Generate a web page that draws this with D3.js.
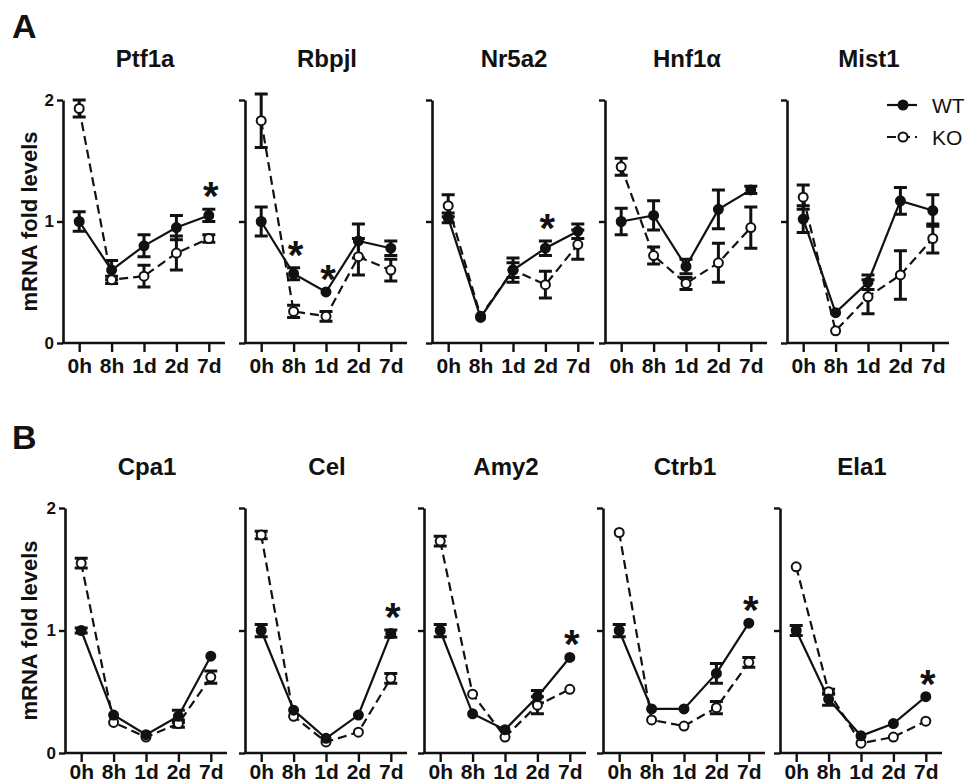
<!DOCTYPE html>
<html lang="en">
<head>
  <meta charset="utf-8" />
  <script src="https://d3js.org/d3.v7.min.js"></script>
  <style>
    html, body { margin: 0; padding: 0; background: #fff; }
    text { font-family: "Liberation Sans", Arial, sans-serif; fill: #111; }
  </style>
</head>
<body>
  <svg id="canvas" width="970" height="784"></svg>
<script>
// time points
var categories = ["0h", "8h", "1d", "2d", "7d"];

// row A: transcription factors
var genesA = ["Ptf1a", "Rbpjl", "Nr5a2", "Hnf1\u03b1", "Mist1"];
var wtA = [
  [1.0, 0.60, 0.80, 0.95, 1.05],
  [1.0, 0.57, 0.42, 0.84, 0.78],
  [1.03, 0.21, 0.60, 0.78, 0.92],
  [1.0, 1.05, 0.63, 1.10, 1.26],
  [1.02, 0.25, 0.50, 1.17, 1.09]
];
var wtErrA = [
  [0.08, 0.08, 0.09, 0.10, 0.05],
  [0.12, 0.05, 0, 0.14, 0.06],
  [0.04, 0, 0.10, 0.06, 0.06],
  [0.11, 0.12, 0.06, 0.16, 0.03],
  [0.11, 0, 0.06, 0.11, 0.13]
];
var koA = [
  [1.93, 0.52, 0.55, 0.74, 0.86],
  [1.83, 0.26, 0.22, 0.71, 0.60],
  [1.13, 0.22, 0.60, 0.48, 0.81],
  [1.45, 0.72, 0.49, 0.66, 0.95],
  [1.20, 0.10, 0.38, 0.56, 0.86]
];
var koErrA = [
  [0.07, 0.03, 0.09, 0.14, 0.03],
  [0.22, 0.05, 0.04, 0.15, 0.09],
  [0.09, 0, 0.06, 0.11, 0.12],
  [0.07, 0.07, 0.05, 0.16, 0.17],
  [0.10, 0, 0.14, 0.20, 0.12]
];
var starsA = [[4], [1, 2], [3], [], []];

// row B: digestive enzymes
var genesB = ["Cpa1", "Cel", "Amy2", "Ctrb1", "Ela1"];
var wtB = [
  [1.0, 0.31, 0.15, 0.30, 0.79],
  [1.0, 0.35, 0.12, 0.31, 0.975],
  [1.0, 0.32, 0.19, 0.46, 0.78],
  [1.0, 0.36, 0.36, 0.65, 1.06],
  [1.0, 0.44, 0.14, 0.24, 0.46]
];
var wtErrB = [
  [0.02, 0, 0, 0.05, 0],
  [0.05, 0, 0, 0, 0.03],
  [0.05, 0, 0, 0.05, 0],
  [0.05, 0, 0, 0.08, 0],
  [0.04, 0.05, 0, 0, 0]
];
var koB = [
  [1.55, 0.25, 0.13, 0.24, 0.62],
  [1.78, 0.30, 0.09, 0.17, 0.61],
  [1.73, 0.48, 0.13, 0.39, 0.52],
  [1.80, 0.27, 0.22, 0.37, 0.74],
  [1.52, 0.50, 0.08, 0.13, 0.26]
];
var koErrB = [
  [0.04, 0, 0, 0.03, 0.05],
  [0.03, 0, 0, 0, 0.04],
  [0.04, 0, 0, 0.07, 0],
  [0, 0, 0, 0.05, 0.04],
  [0, 0.02, 0, 0, 0]
];
var starsB = [[], [4], [4], [4], [4]];

var svg = d3.select("#canvas");

// panel layout
var panelW = 162;
var axisXA = [63, 245, 432, 605, 787];
var axisXB = [65, 245, 424, 603, 780];

function drawPanel(opts) {
  var x0 = opts.x0, top = opts.top, bottom = opts.bottom;
  var x = d3.scalePoint().domain(categories).range([x0, x0 + panelW]).padding(0.5);
  var y = d3.scaleLinear().domain([0, 2]).range([bottom, top]);
  var g = svg.append("g");

  // y axis
  var yAxis = g.append("g")
    .attr("transform", "translate(" + x0 + ",0)")
    .call(d3.axisLeft(y).tickValues([0, 1, 2]).tickSize(6).tickSizeOuter(0)
      .tickPadding(3)
      .tickFormat(opts.yLabels ? d3.format("d") : ""));
  // x axis
  var xAxis = g.append("g")
    .attr("transform", "translate(0," + bottom + ")")
    .call(d3.axisBottom(x).tickSize(9).tickSizeOuter(0));
  [yAxis, xAxis].forEach(function (a) {
    a.select(".domain").attr("stroke", "#111").attr("stroke-width", 2.6);
    a.selectAll(".tick line").attr("stroke", "#111").attr("stroke-width", 2.4);
    a.selectAll("text").attr("fill", "#111").style("font-weight", "bold");
  });
  yAxis.selectAll("text").style("font-size", "17px");
  xAxis.selectAll("text").attr("dy", null).attr("y", opts.labelDy).style("font-size", "21px");
  xAxis.select(".domain").attr("d", "M" + (x0 - 1) + ",0H" + (x0 + panelW));

  // title
  g.append("text")
    .attr("x", x0 + 82).attr("y", top - 33)
    .attr("text-anchor", "middle")
    .style("font-size", "24px").style("font-weight", "bold")
    .text(opts.gene);

  var series = [
    { vals: opts.ko, err: opts.koErr, dash: "9,5", filled: false },
    { vals: opts.wt, err: opts.wtErr, dash: null, filled: true }
  ];
  var line = d3.line().x(function (d, i) { return x(categories[i]); }).y(function (d) { return y(d); });

  series.forEach(function (s) {
    g.append("path")
      .attr("d", line(s.vals))
      .attr("fill", "none").attr("stroke", "#111").attr("stroke-width", 2.2)
      .attr("stroke-dasharray", s.dash);
  });
  series.forEach(function (s) {
    s.vals.forEach(function (v, i) {
      var e = s.err[i];
      if (!e) return;
      var cx = x(categories[i]);
      g.append("path")
        .attr("d", "M" + cx + "," + y(v - e) + "V" + y(v + e) +
          "M" + (cx - 6.5) + "," + y(v - e) + "H" + (cx + 6.5) +
          "M" + (cx - 6.5) + "," + y(v + e) + "H" + (cx + 6.5))
        .attr("fill", "none").attr("stroke", "#111").attr("stroke-width", 3);
    });
  });
  series.forEach(function (s) {
    g.selectAll(null).data(s.vals).enter().append("circle")
      .attr("cx", function (d, i) { return x(categories[i]); })
      .attr("cy", function (d) { return y(d); })
      .attr("r", 4.5)
      .attr("fill", s.filled ? "#111" : "#fff")
      .attr("stroke", "#111").attr("stroke-width", 2);
  });

  // significance marks
  opts.stars.forEach(function (i) {
    var hi = Math.max(opts.wt[i] + opts.wtErr[i], opts.ko[i] + opts.koErr[i]);
    g.append("text")
      .attr("x", x(categories[i]) + 2)
      .attr("y", y(hi) + 1)
      .attr("text-anchor", "middle")
      .style("font-size", "40px").style("font-weight", "bold")
      .text("*");
  });
  return { x: x, y: y };
}

function drawRow(genes, wt, wtErr, ko, koErr, stars, axisX, top, bottom, labelDy) {
  genes.forEach(function (gene, k) {
    drawPanel({
      gene: gene, wt: wt[k], wtErr: wtErr[k], ko: ko[k], koErr: koErr[k],
      stars: stars[k], x0: axisX[k], top: top, bottom: bottom, yLabels: k === 0,
      labelDy: labelDy
    });
  });
  svg.append("text")
    .attr("transform", "translate(37," + ((top + bottom) / 2) + ") rotate(-90)")
    .attr("text-anchor", "middle")
    .style("font-size", "22px").style("font-weight", "bold")
    .text("mRNA fold levels");
}

drawRow(genesA, wtA, wtErrA, koA, koErrA, starsA, axisXA, 100, 343, 30);
drawRow(genesB, wtB, wtErrB, koB, koErrB, starsB, axisXB, 508, 753, 26);

// panel letters
svg.append("text").attr("x", 12).attr("y", 38)
  .style("font-size", "34px").style("font-weight", "bold").text("A");
svg.append("text").attr("x", 12).attr("y", 449)
  .style("font-size", "34px").style("font-weight", "bold").text("B");

// legend
var legend = svg.append("g");
var legendItems = [
  { name: "WT", dash: null, filled: true },
  { name: "KO", dash: "9,5", filled: false }
];
legendItems.forEach(function (d, i) {
  var ly = 105 + i * 32;
  legend.append("line")
    .attr("x1", 887).attr("x2", 917).attr("y1", ly).attr("y2", ly)
    .attr("stroke", "#111").attr("stroke-width", 2.2)
    .attr("stroke-dasharray", d.dash);
  legend.append("circle")
    .attr("cx", 903).attr("cy", ly).attr("r", 4.5)
    .attr("fill", d.filled ? "#111" : "#fff")
    .attr("stroke", "#111").attr("stroke-width", 2);
  legend.append("text")
    .attr("x", 932).attr("y", ly + 7.5)
    .style("font-size", "21px")
    .text(d.name);
});
</script>
</body>
</html>
